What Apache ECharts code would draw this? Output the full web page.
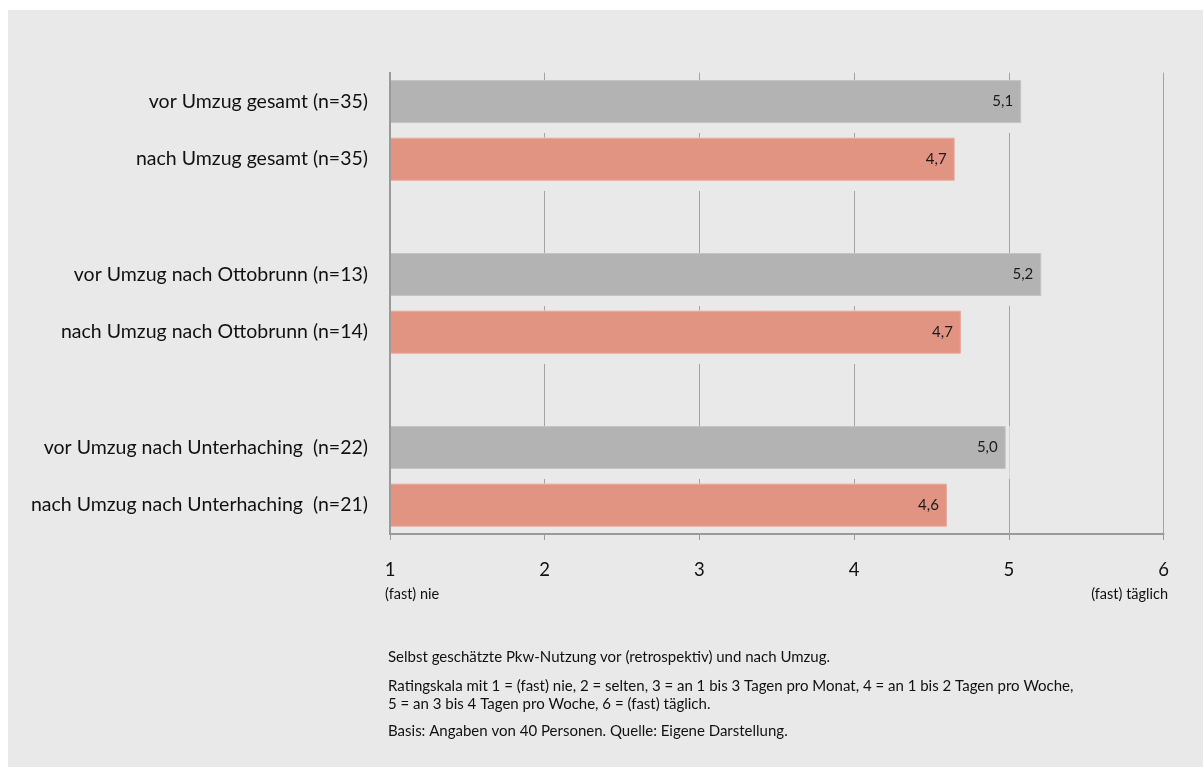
<!DOCTYPE html>
<html>
<head>
<meta charset="utf-8">
<script src="https://cdn.jsdelivr.net/npm/echarts@6/dist/echarts.min.js"></script>
<style>
  html, body { margin: 0; padding: 0; background: #ffffff; width: 1203px; height: 767px; overflow: hidden; }
  #panel { position: absolute; left: 8px; top: 10px; width: 1195px; height: 757px; background: #e9e9e9; }
  #chart { position: absolute; left: 0; top: 0; width: 1203px; height: 767px; }
</style>
</head>
<body>
<div id="panel"></div>
<div id="chart"></div>
<script>
// ---- data ----
const categories = [
  'vor Umzug gesamt (n=35)',
  'nach Umzug gesamt (n=35)',
  '',
  'vor Umzug nach Ottobrunn (n=13)',
  'nach Umzug nach Ottobrunn (n=14)',
  '',
  'vor Umzug nach Unterhaching  (n=22)',
  'nach Umzug nach Unterhaching  (n=21)'
];
const vorValues  = [5.08, null, null, 5.21, null, null, 4.98, null];
const nachValues = [null, 4.65, null, null, 4.69, null, null, 4.60];
const xTicks = [1, 2, 3, 4, 5, 6];
const scaleEnds = ['(fast) nie', '(fast) täglich'];
const notes = [
  'Selbst geschätzte Pkw-Nutzung vor (retrospektiv) und nach Umzug.',
  'Ratingskala mit 1 = (fast) nie, 2 = selten, 3 = an 1 bis 3 Tagen pro Monat, 4 = an 1 bis 2 Tagen pro Woche,',
  '5 = an 3 bis 4 Tagen pro Woche, 6 = (fast) täglich.',
  'Basis: Angaben von 40 Personen. Quelle: Eigene Darstellung.'
];

// ---- chart ----
const FONT = 'Lato, "Open Sans", sans-serif';
const BG = '#e9e9e9';
const AXIS = '#9a9a9a';
const haloValues = vorValues.map((v, i) => v != null ? v : nachValues[i]);
const fmt = p => p.value == null ? '' : Number(p.value).toFixed(1).replace('.', ',');

const chart = echarts.init(document.getElementById('chart'), null, { renderer: 'canvas' });
const barW = 43;
const labelCfg = {
  show: true, position: 'insideRight', distance: 8,
  formatter: fmt, fontFamily: FONT, fontSize: 15, color: '#1a1a1a'
};
const noteStyle = (t, y) => ({
  type: 'text', x: 388, y: y,
  style: { text: t, fontFamily: FONT, fontSize: 15, fill: '#111', verticalAlign: 'middle' }
});
const xCommon = { type: 'value', min: xTicks[0], max: xTicks[xTicks.length - 1], interval: 1, position: 'bottom' };
chart.setOption({
  animation: false,
  backgroundColor: 'transparent',
  grid: { left: 390, right: 39.5, top: 72.7, bottom: 233 },
  xAxis: [
    Object.assign({}, xCommon, {
      z: 0,
      axisLine: { show: false }, axisTick: { show: false }, axisLabel: { show: false },
      splitLine: { show: true, lineStyle: { color: '#a3a3a3', width: 1 } }
    }),
    Object.assign({}, xCommon, {
      z: 10, offset: 0,
      axisLine: { show: true, onZero: false, lineStyle: { color: AXIS, width: 2 } },
      axisTick: { show: true, length: 6, lineStyle: { color: AXIS, width: 1 } },
      splitLine: { show: false },
      axisLabel: { margin: 27, fontFamily: FONT, fontSize: 18.5, color: '#111' }
    })
  ],
  yAxis: {
    type: 'category', inverse: true, data: categories, z: 10,
    axisLine: { show: true, lineStyle: { color: AXIS, width: 2 } },
    axisTick: { show: false },
    axisLabel: { margin: 22, fontFamily: FONT, fontSize: 19.5, color: '#111' }
  },
  series: [
    {
      name: 'halo', type: 'bar', data: haloValues, barWidth: barW + 10, barGap: '-100%', z: 1,
      silent: true, clip: false,
      itemStyle: { color: BG, shadowColor: BG, shadowBlur: 0, shadowOffsetX: 4 }
    },
    {
      name: 'vor', type: 'bar', data: vorValues, barWidth: barW, barGap: '-100%', z: 3,
      itemStyle: { color: '#b3b3b3', borderColor: '#c4c4c4', borderWidth: 1 },
      label: labelCfg
    },
    {
      name: 'nach', type: 'bar', data: nachValues, barWidth: barW, barGap: '-100%', z: 3,
      itemStyle: { color: '#e29482', borderColor: '#eaa898', borderWidth: 1 },
      label: labelCfg
    }
  ],
  graphic: [
    { type: 'text', x: 385, y: 594, style: { text: scaleEnds[0], fontFamily: FONT, fontSize: 14.5, fill: '#111', verticalAlign: 'middle' } },
    { type: 'text', x: 1168, y: 594, style: { text: scaleEnds[1], fontFamily: FONT, fontSize: 14.5, fill: '#111', verticalAlign: 'middle', align: 'right' } },
    noteStyle(notes[0], 657),
    noteStyle(notes[1], 686),
    noteStyle(notes[2], 704),
    noteStyle(notes[3], 731)
  ]
});
</script>
</body>
</html>
